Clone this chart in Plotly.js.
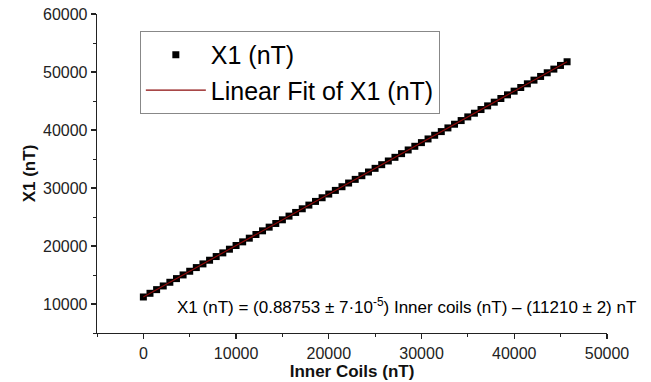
<!DOCTYPE html>
<html>
<head>
<meta charset="utf-8">
<script src="https://cdn.plot.ly/plotly-3.0.1.min.js"></script>
<style>html,body{margin:0;padding:0;background:#fff;}#chart{width:651px;height:382px;}</style>
</head>
<body>
<div id="chart"></div>
<script>
// Measured data: Inner coils (nT) vs X1 (nT)
var innerCoils = [0, 714, 1428, 2142, 2856, 3570, 4284, 4998, 5712, 6426, 7140, 7854, 8568, 9282, 9996,
  10710, 11424, 12138, 12852, 13566, 14280, 14994, 15708, 16422, 17136, 17850, 18564, 19278, 19992,
  20706, 21420, 22134, 22848, 23562, 24276, 24990, 25704, 26418, 27132, 27846, 28560, 29274, 29988,
  30702, 31416, 32130, 32844, 33558, 34272, 34986, 35700, 36414, 37128, 37842, 38556, 39270, 39984,
  40698, 41412, 42126, 42840, 43554, 44268, 44982, 45696];
var x1Values = [11210, 11844, 12477, 13111, 13745, 14379, 15012, 15646, 16280, 16913, 17547, 18181, 18814, 19448, 20082,
  20716, 21349, 21983, 22617, 23250, 23884, 24518, 25151, 25785, 26419, 27052, 27686, 28320, 28954,
  29587, 30221, 30855, 31488, 32122, 32756, 33389, 34023, 34657, 35290, 35924, 36558, 37192, 37825,
  38459, 39093, 39726, 40360, 40994, 41627, 42261, 42895, 43528, 44162, 44796, 45430, 46063, 46697,
  47331, 47964, 48598, 49232, 49865, 50499, 51133, 51766];
// Linear fit end points
var fitX = [0, 45696];
var fitY = [11210, 51766];

var seriesNames = ['X1 (nT)', 'Linear Fit of X1 (nT)'];
var xTitle = 'Inner Coils (nT)';
var yTitle = 'X1 (nT)';
var equation = 'X1 (nT) = (0.88753 \u00b1 7\u00b710<sup>-5</sup>) Inner coils (nT) \u2013 (11210 \u00b1 2) nT';

var font = 'Arial, "Liberation Sans", sans-serif';

var traces = [
  {x: innerCoils, y: x1Values, type: 'scatter', mode: 'markers', name: seriesNames[0],
   marker: {symbol: 'square', size: 7, color: '#000000', line: {width: 0}}},
  {x: fitX, y: fitY, type: 'scatter', mode: 'lines', name: seriesNames[1],
   line: {color: '#8b0a0a', width: 1.2}}
];

var axisCommon = {
  showgrid: false, zeroline: false, showline: true, linecolor: '#222', linewidth: 1.3,
  ticks: 'outside', ticklen: 5, tickwidth: 1.2, tickcolor: '#222',
  tickformat: 'd', separatethousands: false,
  tickfont: {family: font, size: 16, color: '#222'},
  minor: {ticks: 'outside', ticklen: 3, tickwidth: 1, tickcolor: '#222', dtick: 5000}
};

var layout = {
  width: 651, height: 382,
  margin: {l: 97, r: 44, t: 14, b: 49},
  paper_bgcolor: '#ffffff', plot_bgcolor: '#ffffff',
  showlegend: true,
  xaxis: Object.assign({}, axisCommon, {
    range: [-5000, 50000], dtick: 10000, tick0: 0,
    title: {text: '<b>' + xTitle + '</b>', font: {family: font, size: 17, color: '#111'}, standoff: 0}
  }),
  yaxis: Object.assign({}, axisCommon, {
    range: [5000, 60000], dtick: 10000, tick0: 0,
    title: {text: '<b>' + yTitle + '</b>', font: {family: font, size: 17, color: '#111'}, standoff: 3}
  }),
  legend: {
    x: 0.084, y: 0.947, xanchor: 'left', yanchor: 'top',
    bgcolor: '#ffffff', bordercolor: '#888888', borderwidth: 1,
    font: {family: font, size: 25, color: '#000'},
    itemwidth: 60, tracegroupgap: 0
  },
  annotations: [{
    xref: 'paper', yref: 'paper', x: 0.607, y: 0.085, xanchor: 'center', yanchor: 'middle',
    text: equation, showarrow: false, font: {family: font, size: 17, color: '#000'}
  }]
};

Plotly.newPlot('chart', traces, layout, {displayModeBar: false, staticPlot: true});
</script>
</body>
</html>
